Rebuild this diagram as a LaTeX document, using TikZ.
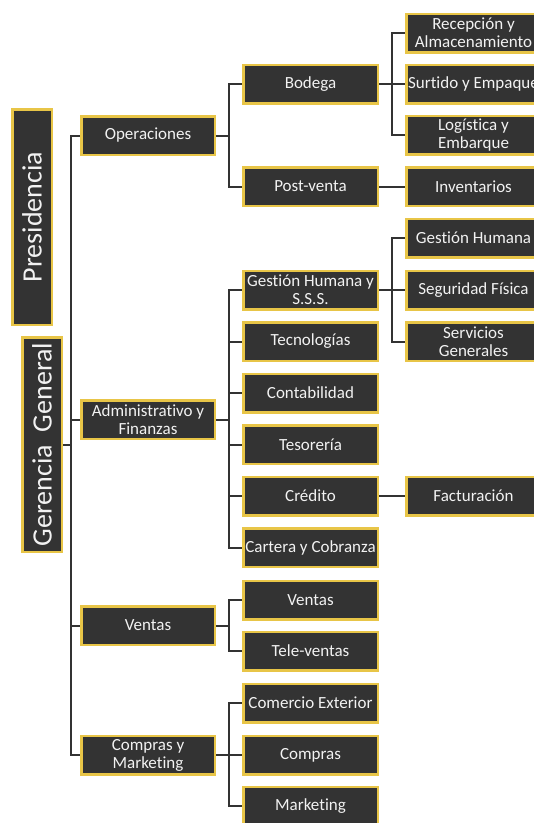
\documentclass[tikz,border=0pt]{standalone}
\usepackage{fontspec}
\setmainfont{Carlito}[Ligatures=NoCommon]
\definecolor{boxfill}{HTML}{333333}
\definecolor{boxline}{HTML}{E8C547}
\definecolor{wirecol}{HTML}{333333}
\begin{document}
\begin{tikzpicture}[x=1pt,y=-1pt,
 box/.style={draw=boxline, line width=2.5pt, fill=boxfill, text=white!95!black,
   font=\fontsize{17}{18}\selectfont, align=center,
   minimum width=134.5pt, minimum height=38.5pt, inner sep=1pt},
 vbox/.style={box, rotate=90, font=\fontsize{28}{30}\selectfont, minimum height=39.5pt},
 wire/.style={draw=wirecol, line width=2pt}]
\useasboundingbox (0,0) rectangle (534,823);
\clip (0,0) rectangle (534,823);
\fill[white] (0,0) rectangle (534,823);

% top levels
\node[vbox, minimum width=215.5pt] (pres) at (32,217) {Presidencia};
\node[vbox, minimum width=214.5pt] (ger) at (42,444.5) {Gerencia\ \ General};

% level 1
\node[box, minimum width=133.5pt] (op)  at (148,135.5) {Operaciones};
\node[box, minimum width=133.5pt] (adm) at (148,419.5) {Administrativo y\\Finanzas};
\node[box, minimum width=133.5pt] (ven) at (148,625.5) {Ventas};
\node[box, minimum width=133.5pt] (com) at (148,755) {Compras y\\Marketing};

% level 2
\node[box] (bod) at (310.5,84)  {Bodega};
\node[box] (pv)  at (310.5,186.5) {Post-venta};
\node[box] (ghs) at (310.5,290) {Gestión Humana y\\S.S.S.};
\node[box] (tec) at (310.5,341.5) {Tecnologías};
\node[box] (cont) at (310.5,393) {Contabilidad};
\node[box] (tes) at (310.5,444.5) {Tesorería};
\node[box] (cre) at (310.5,496) {Crédito};
\node[box] (car) at (310.5,547.5) {Cartera y Cobranza};
\node[box] (ven2) at (310.5,600) {Ventas};
\node[box] (tel) at (310.5,651) {Tele-ventas};
\node[box] (cex) at (310.5,703) {Comercio Exterior};
\node[box] (cmp) at (310.5,755) {Compras};
\node[box] (mkt) at (310.5,806) {Marketing};

% level 3
\node[box] (rec) at (473.5,33)  {Recepción y\\Almacenamiento};
\node[box] (sur) at (473.5,84)  {Surtido y Empaque};
\node[box] (log) at (473.5,135) {Logística y\\Embarque};
\node[box] (inv) at (473.5,186.5) {Inventarios};
\node[box] (gh)  at (473.5,238) {Gestión Humana};
\node[box] (seg) at (473.5,290) {Seguridad Física};
\node[box] (ser) at (473.5,341.5) {Servicios\\Generales};
\node[box] (fac) at (473.5,496) {Facturación};

% connectors
\draw[wire] (ger.south) -- ++(8,0) coordinate (g);
\draw[wire] (g) |- (op.west);
\draw[wire] (g) |- (adm.west);
\draw[wire] (g) |- (ven.west);
\draw[wire] (g) |- (com.west);

\draw[wire] (op.east) -- ++(13,0) coordinate (bop);
\draw[wire] (bop) |- (bod.west);
\draw[wire] (bop) |- (pv.west);

\draw[wire] (adm.east) -- ++(13,0) coordinate (badm);
\foreach \n in {ghs,tec,cont,tes,cre,car} \draw[wire] (badm) |- (\n.west);

\draw[wire] (ven.east) -- ++(13,0) coordinate (bven);
\draw[wire] (bven) |- (ven2.west);
\draw[wire] (bven) |- (tel.west);

\draw[wire] (com.east) -- ++(13,0) coordinate (bcom);
\foreach \n in {cex,cmp,mkt} \draw[wire] (bcom) |- (\n.west);

\draw[wire] (bod.east) -- ++(13,0) coordinate (bbod);
\foreach \n in {rec,sur,log} \draw[wire] (bbod) |- (\n.west);

\draw[wire] (pv.east) -- (inv.west);

\draw[wire] (ghs.east) -- ++(13,0) coordinate (bghs);
\foreach \n in {gh,seg,ser} \draw[wire] (bghs) |- (\n.west);

\draw[wire] (cre.east) -- (fac.west);
\end{tikzpicture}
\end{document}
